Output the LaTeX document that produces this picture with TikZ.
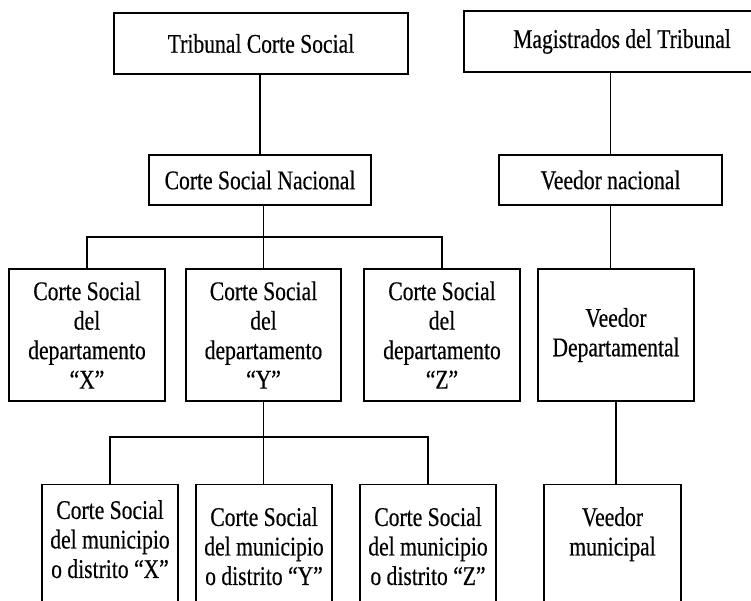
\documentclass[tikz,border=0pt]{standalone}
\usepackage{fontspec}
\setmainfont{Liberation Serif}[FakeStretch=0.8,FakeBold=0.4]
\usepackage{tikz}
\usetikzlibrary{calc}

\begin{document}
\begin{tikzpicture}[x=1pt,y=-1pt,
    caja/.style={draw,line width=1.3pt,inner sep=0pt,align=center,
        font=\fontsize{27}{29.5}\selectfont},
    cajamun/.style={caja,minimum width=136pt,minimum height=140pt,anchor=north},
    texto/.style={anchor=north,inner sep=0pt,align=center,
        font=\fontsize{27}{29.5}\selectfont},
    linea/.style={line width=1.3pt}]
                \useasboundingbox (0,0) rectangle (751,600);

                % nivel 1
                \node[caja,minimum width=294pt,minimum height=61pt] (trib) at (261,43.5) {Tribunal Corte Social};
                \node[caja,minimum width=316pt,minimum height=61pt] (magis) at (622,41.5) {Magistrados del Tribunal};

                % nivel 2
                \node[caja,minimum width=222pt,minimum height=50pt] (nac) at (260,180) {Corte Social Nacional};
                \node[caja,minimum width=223pt,minimum height=50pt] (vnac) at (610.5,180) {Veedor nacional};

                % nivel 3
                \node[caja,minimum width=156pt,minimum height=132pt] (depx) at (87,335) {Corte Social\\del\\departamento\\“X”};
                \node[caja,minimum width=155pt,minimum height=132pt] (depy) at (263.5,335) {Corte Social\\del\\departamento\\“Y”};
                \node[caja,minimum width=156pt,minimum height=132pt] (depz) at (442,335) {Corte Social\\del\\departamento\\“Z”};
                \node[caja,minimum width=156pt,minimum height=132pt] (vdep) at (616,335) {Veedor\\Departamental};

                % nivel 4
                \node[cajamun,label={[texto,yshift=-16pt]north:{Corte Social\\del municipio\\o distrito “X”}}] (munx) at (110,484) {};
                \node[cajamun,label={[texto,yshift=-23pt]north:{Corte Social\\del municipio\\o distrito “Y”}}] (muny) at (264,484) {};
                \node[cajamun,label={[texto,yshift=-23pt]north:{Corte Social\\del municipio\\o distrito “Z”}}] (munz) at (428,484) {};
                \node[cajamun,minimum width=137pt,label={[texto,yshift=-23pt]north:{Veedor\\municipal}}] (vmun) at (612.5,484) {};

                % conectores
                \coordinate (bus1) at (0,237);
                \coordinate (bus2) at (0,437);
                \draw[linea] (nac.north) -- (nac.north |- trib.south);
                \draw[linea] (vnac.north) -- (vnac.north |- magis.south);
                \draw[linea] (depy.north |- nac.south) -- (depy.north);
                \draw[linea] (depx.north) -- (depx.north |- bus1) -- (depz.north |- bus1) -- (depz.north);
                \draw[linea] (vnac.south) -- (vnac.south |- vdep.north);
                \draw[linea] (depy.south) -- (depy.south |- muny.north);
                \draw[linea] (munx.north) -- (munx.north |- bus2) -- (munz.north |- bus2) -- (munz.north);
                \draw[linea] (vdep.south) -- (vdep.south |- vmun.north);
            \end{tikzpicture}
\end{document}
